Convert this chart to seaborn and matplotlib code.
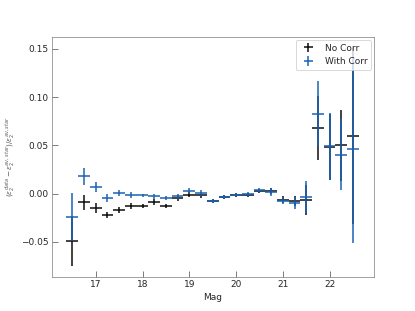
import matplotlib
matplotlib.use("Agg")
import matplotlib.pyplot as plt
import seaborn as sns
import numpy as np

mag = [16.5, 16.75, 17.0, 17.25, 17.5, 17.75, 18.0, 18.25, 18.5, 18.75,
       19.0, 19.25, 19.5, 19.75, 20.0, 20.25, 20.5, 20.75, 21.0, 21.25,
       21.5, 21.75, 22.0, 22.25, 22.5]
mag_halfwidth = 0.125

no_corr = [-0.049, -0.009, -0.015, -0.022, -0.0167, -0.013, -0.013, -0.009, -0.013, -0.0045,
           -0.001, -0.002, -0.0073, -0.0035, -0.0017, -0.0017, 0.003, 0.0028, -0.0063, -0.008,
           -0.0066, 0.068, 0.0485, 0.050, 0.0597]
no_corr_err = [0.026, 0.008, 0.005, 0.003, 0.003, 0.003, 0.002, 0.003, 0.002, 0.003,
               0.003, 0.003, 0.002, 0.002, 0.002, 0.002, 0.002, 0.003, 0.004, 0.005,
               0.0156, 0.033, 0.034, 0.0365, 0.091]

with_corr = [-0.024, 0.018, 0.007, -0.0045, 0.0007, -0.0017, -0.002, -0.003, -0.005, -0.003,
             0.0024, 0.0003, -0.0073, -0.0035, -0.001, -0.0007, 0.0038, 0.0014, -0.0073, -0.0097,
             -0.0038, 0.083, 0.049, 0.0403, 0.0458]
with_corr_err = [0.025, 0.009, 0.005, 0.004, 0.003, 0.003, 0.002, 0.003, 0.002, 0.003,
                 0.003, 0.003, 0.002, 0.002, 0.002, 0.002, 0.002, 0.004, 0.004, 0.006,
                 0.0167, 0.0337, 0.0347, 0.037, 0.0966]

sns.set_style("ticks", {"xtick.direction": "in", "ytick.direction": "in",
                        "axes.edgecolor": "gray"})

fig, ax = plt.subplots(figsize=(415 / 65, 311 / 65), dpi=65)

ax.errorbar(mag, no_corr, xerr=mag_halfwidth, yerr=no_corr_err, fmt="none",
            ecolor="black", elinewidth=2, alpha=0.8, label="No Corr")
ax.errorbar(mag, with_corr, xerr=mag_halfwidth, yerr=with_corr_err, fmt="none",
            ecolor="#1a62b5", elinewidth=2, alpha=0.85, label="With Corr")

ax.set_xticks([17, 18, 19, 20, 21, 22])
ax.set_yticks([-0.05, 0.0, 0.05, 0.10, 0.15])
ax.tick_params(length=7, color="0.3")
ax.set_xlabel("Mag")
ax.set_ylabel(r"$(\epsilon_2^{data} - \epsilon_2^{av,star})/\epsilon_2^{av,star}$",
              fontsize=8, color="0.35")
ax.legend(loc="upper right", borderaxespad=0.3)

fig.savefig("out.png", dpi=65)
